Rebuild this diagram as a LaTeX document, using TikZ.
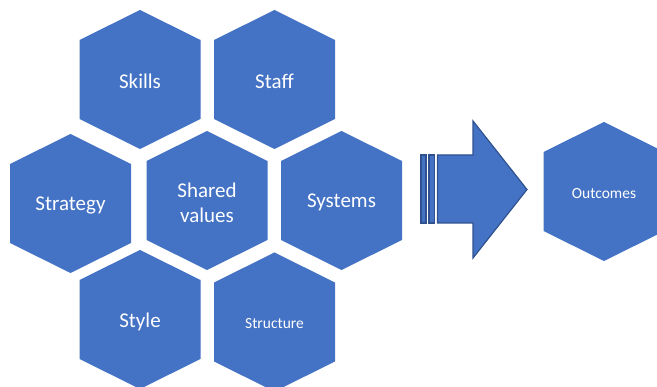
\documentclass[tikz,border=0pt]{standalone}
\usepackage{fontspec}
\setmainfont{Carlito}
\usepackage{tikz}
\usetikzlibrary{positioning}

\definecolor{hexblue}{HTML}{4472C4}
\definecolor{hexedge}{HTML}{2F528F}

% hexagon cell: name, centre, label (optional font size)
\newcommand{\hexcell}[4][21]{%
  \fill[hexblue] (#3) +(0,-69.5) -- +(60.5,-39.5) -- +(60.5,39.5) -- +(0,69.5)
    -- +(-60.5,39.5) -- +(-60.5,-39.5) -- cycle;
  \node[cell,font=\fontsize{#1}{25}\selectfont] (#2) at (#3) {#4};
}

\begin{document}
\begin{tikzpicture}[x=1pt,y=-1pt,
  cell/.style={text=white,align=center,inner sep=0pt,yshift=-2pt},
  arrowpart/.style={fill=hexblue,draw=hexedge,line width=1.2pt,line join=miter}]
\useasboundingbox (0,0) rectangle (657,387);

\hexcell{skills}{140,79.5}{Skills}
\hexcell{staff}{274.5,79.5}{Staff}
\hexcell{strategy}{70.5,203.5}{Strategy}
\hexcell{shared}{207,200.5}{Shared\\values}
\hexcell{systems}{341.5,200.5}{Systems}
\hexcell{style}{140,319.5}{Style}
\hexcell[15.5]{structure}{274.5,322}{Structure}
\hexcell[15.5]{outcomes}{604,191.5}{Outcomes}

% striped block arrow
\draw[arrowpart] (421,155) rectangle (426,223);
\draw[arrowpart] (429,155) rectangle (434.5,223);
\draw[arrowpart] (437.5,155) -- (473,155) -- (473,121) -- (527,189.5)
  -- (473,258) -- (473,223) -- (437.5,223) -- cycle;
\end{tikzpicture}
\end{document}
